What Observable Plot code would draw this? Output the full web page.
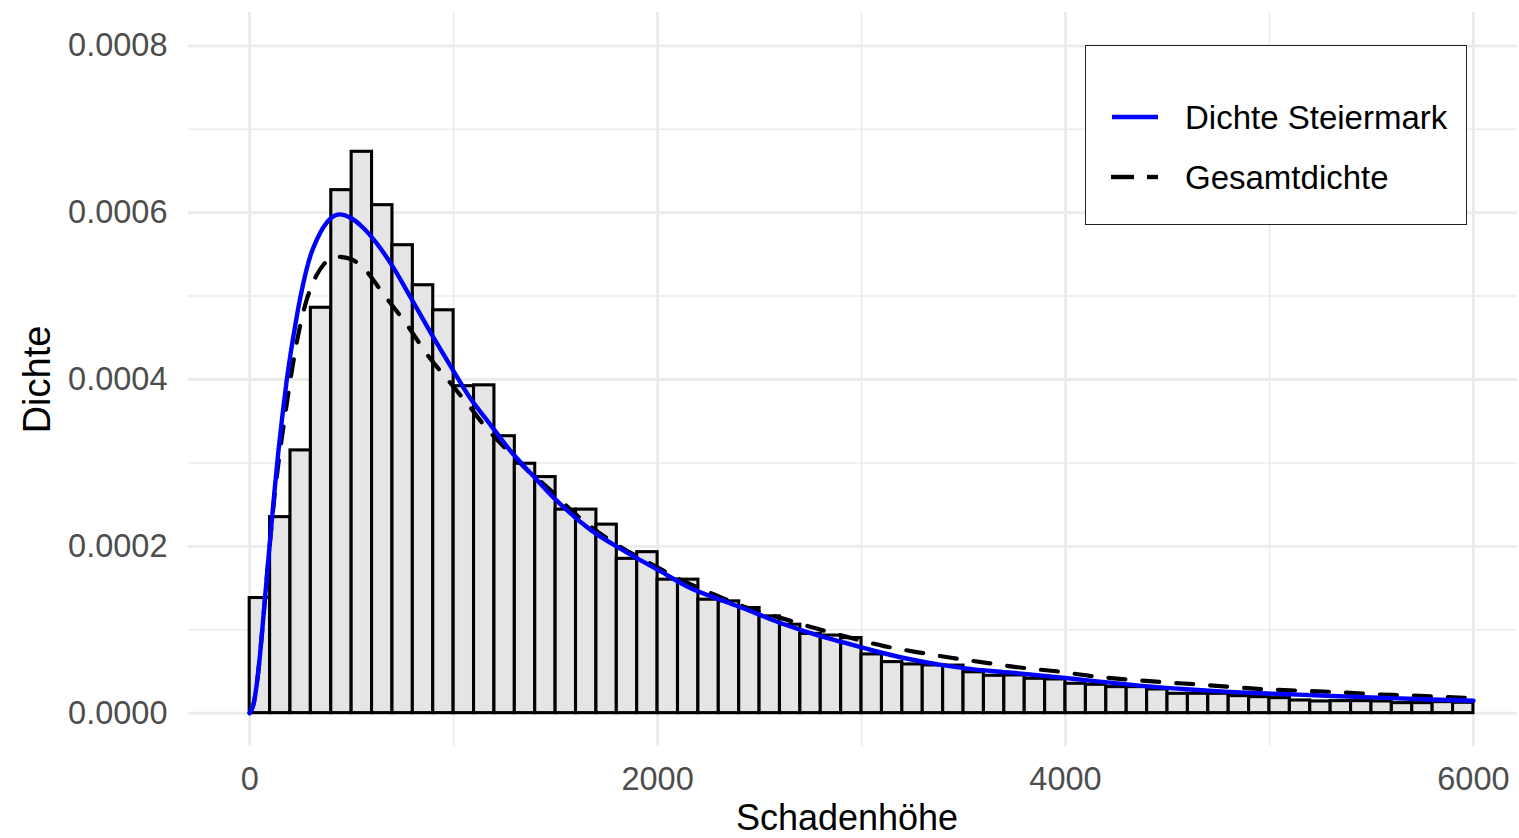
<!DOCTYPE html>
<html>
<head>
<meta charset="utf-8">
<script src="https://cdn.jsdelivr.net/npm/d3@7"></script>
<script src="https://cdn.jsdelivr.net/npm/@observablehq/plot@0.6"></script>
<style>
html,body{margin:0;padding:0;background:#fff;overflow:hidden;}
#wrap{position:relative;width:1519px;height:838px;}
#legend{position:absolute;left:1085px;top:45px;width:382px;height:180px;box-sizing:border-box;border:1.5px solid #222;background:#fff;}
#legend svg{position:absolute;left:-1.5px;top:-1.5px;}
</style>
</head>
<body>
<div id="wrap"></div>
<script>
// ---- data ----
const binStart = [0,100,200,300,400,500,600,700,800,900,1000,1100,1200,1300,1400,1500,1600,1700,1800,1900,
  2000,2100,2200,2300,2400,2500,2600,2700,2800,2900,3000,3100,3200,3300,3400,3500,3600,3700,3800,3900,
  4000,4100,4200,4300,4400,4500,4600,4700,4800,4900,5000,5100,5200,5300,5400,5500,5600,5700,5800,5900];
const binWidth = 100;
const binDensity = [0.000138,0.000235,0.000315,0.000486,0.000627,0.000673,0.000609,0.000561,0.000513,0.000483,
  0.000392,0.000393,0.000332,0.000299,0.000283,0.000244,0.000244,0.000226,0.000185,0.000193,
  0.000160,0.000160,0.000136,0.000134,0.000126,0.000116,0.000106,0.000095,0.000093,0.000090,
  0.0000704,0.0000612,0.0000584,0.0000572,0.0000570,0.0000490,0.0000448,0.0000452,0.0000412,0.0000404,
  0.0000352,0.0000340,0.0000312,0.0000312,0.0000284,0.0000232,0.0000232,0.0000232,0.0000204,0.0000192,
  0.0000180,0.0000152,0.0000140,0.0000144,0.0000144,0.0000140,0.0000120,0.0000120,0.0000132,0.0000124];

const steiermarkX = [0,20,40,60,80,100,120,140,160,180,200,220,240,260,280,300,330,360,400,440,500,560,620,700,790,890,990,
  1080,1180,1280,1380,1500,1670,1840,2000,2160,2330,2460,2570,2730,2900,3060,3220,3390,3550,3700,3800,3960,
  4120,4290,4450,4610,4780,4960,5140,5460,5790,6000];
const steiermarkY = [0,0.000012,0.000045,0.000095,0.000152,0.000208,0.000262,0.000312,0.000356,0.000396,0.00043,
  0.00046,0.000488,0.000512,0.000533,0.00055,0.000568,0.000582,0.000594,0.000598,0.000593,0.000581,0.000564,
  0.000536,0.000498,0.000455,0.000414,
  0.000378,0.000346,0.000314,0.000287,0.000256,0.00022,0.000194,0.000172,0.00015,0.000134,0.000122,0.000111,
  0.0000975,0.0000855,0.0000748,0.0000655,0.0000578,0.0000525,0.0000492,0.000047,0.0000432,0.000039,
  0.0000348,0.0000312,0.0000284,0.0000258,0.0000238,0.0000222,0.0000192,0.0000164,0.0000148];

const gesamtX = [0,20,40,60,80,100,120,140,160,180,200,220,240,260,280,300,330,360,400,440,500,560,660,770,870,970,1070,1160,
  1280,1380,1440,1600,1780,1960,2130,2280,2420,2620,2770,2950,3110,3270,3440,3620,3800,3960,4130,4300,4470,
  4650,4820,4990,5160,5330,5500,5680,5850,6000];
const gesamtY = [0,0.000012,0.000045,0.000095,0.000152,0.000206,0.000256,0.000298,0.000334,0.000368,0.0004,
  0.00043,0.000456,0.000478,0.000496,0.00051,0.000526,0.000537,0.000545,0.000547,0.000544,0.000533,0.000501,
  0.000466,0.00043,0.0004,0.00037,
  0.000342,0.000311,0.000287,0.000275,0.000238,0.000205,0.00018,0.000158,0.000142,0.000128,0.000113,0.000102,
  0.00009,0.0000804,0.0000732,0.0000664,0.00006,0.000054,0.00005,0.0000444,0.0000404,0.0000372,0.0000344,
  0.0000312,0.0000284,0.0000268,0.0000252,0.0000228,0.0000212,0.0000196,0.000018];

const xTicks = [0,2000,4000,6000];
const xMinor = [1000,3000,5000];
const yTicks = [0,0.0002,0.0004,0.0006,0.0008];
const yMinor = [0.0001,0.0003,0.0005,0.0007];
const xTitle = "Schadenhöhe";
const yTitle = "Dichte";
const legendLabels = ["Dichte Steiermark","Gesamtdichte"];

// ---- build tables ----
const bins = binStart.map((x0,i)=>({x1:x0, x2:x0+binWidth, y:binDensity[i]}));
const steier = steiermarkX.map((x,i)=>({x, y:steiermarkY[i]}));
const gesamt = gesamtX.map((x,i)=>({x, y:gesamtY[i]}));

const FONT = "'Liberation Sans', Arial, Helvetica, sans-serif";
const grid = "#ebebeb";

const chart = Plot.plot({
  width:1519, height:838,
  marginLeft:188, marginRight:2, marginTop:12, marginBottom:92,
  style:{fontFamily:FONT, background:"#fff"},
  x:{domain:[-300,6216]},
  y:{domain:[-0.00004,0.00084]},
  marks:[
    Plot.ruleX(xMinor,{stroke:grid,strokeWidth:1.5}),
    Plot.ruleY(yMinor,{stroke:grid,strokeWidth:1.5}),
    Plot.ruleX(xTicks,{stroke:grid,strokeWidth:2.8}),
    Plot.ruleY(yTicks,{stroke:grid,strokeWidth:2.8}),
    Plot.rectY(bins,{x1:"x1",x2:"x2",y:"y",fill:"#e5e5e5",stroke:"#000",strokeWidth:3.1}),
    Plot.line(gesamt,{x:"x",y:"y",stroke:"#000",strokeWidth:4.2,strokeDasharray:"17,17",curve:"monotone-x"}),
    Plot.line(steier,{x:"x",y:"y",stroke:"#0000ff",strokeWidth:4.4,curve:"monotone-x"}),
    Plot.axisX(xTicks,{tickSize:0,tickPadding:20,fontSize:32.5,fill:"#4d4d4d",tickFormat:d=>String(d),label:null}),
    Plot.axisY(yTicks,{tickSize:0,tickPadding:21,fontSize:32.5,fill:"#4d4d4d",tickFormat:d3.format(".4f"),label:null}),
    Plot.text([xTitle],{frameAnchor:"bottom",dy:83,dx:-6,fontSize:36,fill:"#000"}),
    Plot.text([yTitle],{frameAnchor:"left",dx:-151,rotate:-90,textAnchor:"middle",fontSize:38,fill:"#000"})
  ]
});
const wrap = document.getElementById("wrap");
wrap.appendChild(chart);

// ---- legend ----
const leg = document.createElement("div");
leg.id = "legend";
const ns = "http://www.w3.org/2000/svg";
const svg = document.createElementNS(ns,"svg");
svg.setAttribute("width","382"); svg.setAttribute("height","180");
svg.style.fontFamily = FONT;
function ln(x1,x2,y,color){
  const l = document.createElementNS(ns,"line");
  l.setAttribute("x1",x1); l.setAttribute("x2",x2); l.setAttribute("y1",y); l.setAttribute("y2",y);
  l.setAttribute("stroke",color); l.setAttribute("stroke-width","4.4");
  svg.appendChild(l);
}
ln(27,73,72,"#0000ff");
ln(26,49,132,"#000");
ln(62,73,132,"#000");
legendLabels.forEach((t,i)=>{
  const tx = document.createElementNS(ns,"text");
  tx.setAttribute("x","100"); tx.setAttribute("y", String(72+60*i));
  tx.setAttribute("dy","0.35em");
  tx.setAttribute("font-size","33"); tx.setAttribute("fill","#000");
  tx.textContent = t;
  svg.appendChild(tx);
});
leg.appendChild(svg);
wrap.appendChild(leg);
</script>
</body>
</html>
